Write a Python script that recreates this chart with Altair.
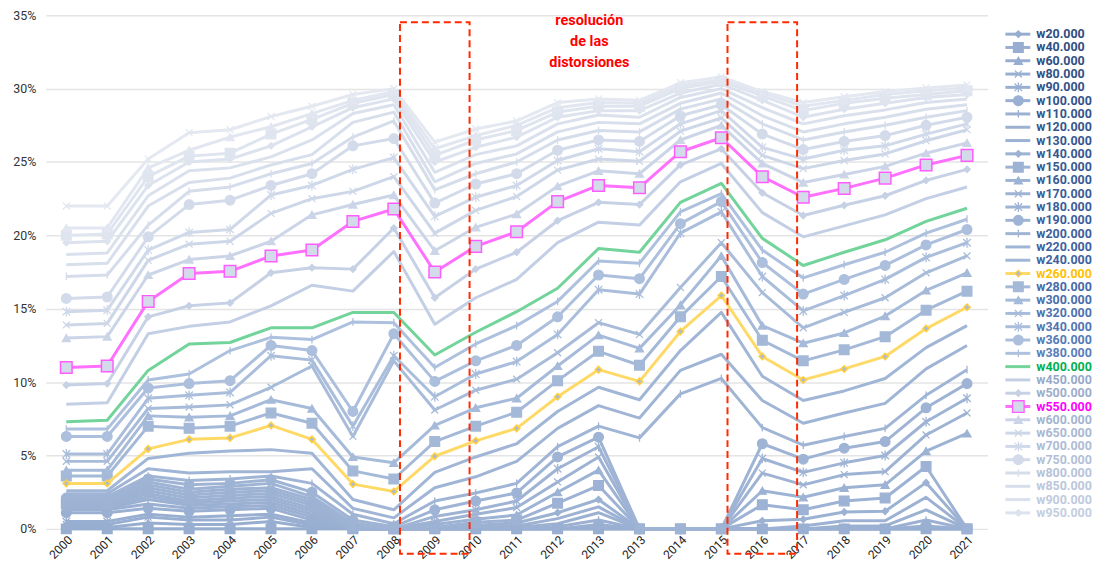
import json
import altair as alt
import pandas as pd

# ---------------- data ----------------
years = ["2000", "2001", "2002", "2003", "2004", "2005", "2006", "2007", "2008",
         "2009", "2010", "2011", "2012", "2013", "2013", "2014", "2015", "2016",
         "2017", "2018", "2019", "2020", "2021"]

series_names = ["w20.000", "w40.000", "w60.000", "w80.000", "w90.000", "w100.000",
                "w110.000", "w120.000", "w130.000", "w140.000", "w150.000", "w160.000",
                "w170.000", "w180.000", "w190.000", "w200.000", "w220.000", "w240.000",
                "w260.000", "w280.000", "w300.000", "w320.000", "w340.000", "w360.000",
                "w380.000", "w400.000", "w450.000", "w500.000", "w550.000", "w600.000",
                "w650.000", "w700.000", "w750.000", "w800.000", "w850.000", "w900.000",
                "w950.000", "w1.000.000", "w1.100.000", "w1.200.000"]
legend_count = 37  # the legend of the original is cut after w950.000

w20 = [0, 0, 0, 0, 0, 0, 0, 0, 0, 0, 0, 0, 0, 0, 0, 0, 0, 0, 0, 0, 0, 0, 0]
w40 = [0, 0, 0, 0, 0, 0, 0, 0, 0, 0, 0, 0, 0, 0, 0, 0, 0, 0, 0, 0, 0, 0, 0]
w60 = [0.1, 0.1, 0.4, 0.3, 0.3, 0.5, 0.1, 0, 0, 0, 0, 0, 0, 0, 0, 0, 0, 0, 0, 0, 0, 0, 0]
w80 = [0.3, 0.3, 0.8, 0.6, 0.6, 0.8, 0.25, 0, 0, 0, 0, 0, 0, 0, 0, 0, 0, 0, 0, 0, 0, 0, 0]
w90 = [0.5, 0.5, 1.0, 0.8, 0.9, 1.0, 0.4, 0, 0, 0, 0, 0, 0, 0.1, 0, 0, 0, 0, 0, 0, 0, 0, 0]
w100 = [1.1, 1.1, 1.4, 1.2, 1.3, 1.4, 0.6, 0, 0, 0, 0, 0, 0, 0.3, 0, 0, 0, 0, 0, 0, 0, 0.2, 0]
w110 = [1.3, 1.3, 1.7, 1.4, 1.5, 1.6, 0.8, 0, 0, 0, 0, 0, 0.15, 0.6, 0, 0, 0, 0, 0, 0, 0, 0.6, 0]
w120 = [1.4, 1.4, 2.0, 1.6, 1.7, 1.8, 1.0, 0, 0, 0, 0, 0.1, 0.35, 1.1, 0, 0, 0, 0, 0, 0.2, 0.2, 1.3, 0]
w130 = [1.5, 1.5, 2.2, 1.75, 1.9, 2.0, 1.2, 0, 0, 0, 0.15, 0.2, 0.7, 1.5, 0, 0, 0, 0, 0.2, 0.55, 0.55, 2.15, 0]
w140 = [1.6, 1.6, 2.4, 1.9, 2.1, 2.2, 1.4, 0, 0, 0, 0.25, 0.4, 1.1, 2.0, 0, 0, 0, 0.55, 0.65, 1.15, 1.2, 3.15, 0]
w150 = [1.7, 1.7, 2.6, 2.1, 2.3, 2.4, 1.6, 0.1, 0, 0.1, 0.45, 0.6, 1.75, 2.95, 0, 0, 0, 1.65, 1.3, 1.9, 2.1, 4.25, 0]
w160 = [1.8, 1.8, 2.8, 2.3, 2.5, 2.6, 1.8, 0.2, 0, 0.3, 0.65, 0.95, 2.5, 4.0, 0, 0, 0, 2.6, 2.15, 2.8, 3.0, 5.3, 6.5]
w170 = [1.9, 1.9, 3.0, 2.5, 2.7, 2.8, 2.0, 0.3, 0, 0.5, 1.0, 1.45, 3.2, 4.9, 0, 0, 0, 3.8, 3.0, 3.7, 3.9, 6.4, 7.9]
w180 = [2.0, 2.0, 3.2, 2.7, 2.9, 3.1, 2.2, 0.4, 0, 0.85, 1.3, 1.9, 4.1, 5.6, 0, 0, 0, 4.8, 3.85, 4.5, 5.0, 7.3, 8.9]
w190 = [2.1, 2.1, 3.4, 3.0, 3.1, 3.35, 2.5, 0.6, 0.15, 1.3, 1.9, 2.45, 4.9, 6.25, 0, 0, 0, 5.8, 4.75, 5.5, 5.95, 8.25, 9.9]
w200 = [2.2, 2.2, 3.6, 3.3, 3.4, 3.6, 3.1, 1.0, 0.35, 1.9, 2.45, 3.1, 5.6, 7.0, 6.2, 9.2, 10.25, 6.9, 5.7, 6.3, 6.85, 9.1, 10.85]
w220 = [2.4, 2.4, 4.1, 3.8, 3.9, 3.9, 4.1, 1.4, 0.75, 2.8, 3.55, 4.6, 6.85, 8.4, 7.55, 10.8, 11.9, 8.75, 7.2, 7.9, 8.55, 10.9, 12.5]
w240 = [2.6, 2.6, 4.8, 5.15, 5.3, 5.4, 5.15, 2.0, 1.3, 3.85, 4.9, 5.8, 8.0, 9.65, 8.8, 12.15, 14.75, 10.4, 8.75, 9.4, 10.25, 12.35, 13.85]
w260 = [3.1, 3.1, 5.45, 6.1, 6.2, 7.05, 6.1, 3.05, 2.55, 4.95, 6.0, 6.85, 9.0, 10.85, 10.05, 13.45, 15.9, 11.75, 10.15, 10.9, 11.75, 13.65, 15.1]
w280 = [3.6, 3.6, 7.0, 6.85, 7.0, 7.9, 7.2, 3.95, 3.4, 5.95, 7.0, 7.95, 10.1, 12.1, 11.15, 14.45, 17.2, 12.85, 11.45, 12.2, 13.1, 14.9, 16.2]
w300 = [4.0, 4.0, 7.7, 7.6, 7.7, 8.8, 8.2, 4.9, 4.5, 7.05, 8.25, 8.9, 11.1, 13.2, 12.3, 15.25, 18.6, 13.85, 12.65, 13.35, 14.5, 16.25, 17.45]
w320 = [4.6, 4.6, 8.2, 8.3, 8.45, 9.65, 11.1, 6.3, 11.45, 8.1, 9.45, 10.2, 12.0, 14.05, 13.25, 16.45, 19.5, 16.1, 13.7, 14.75, 15.75, 17.45, 18.6]
w340 = [5.1, 5.1, 8.9, 9.1, 9.3, 11.8, 11.5, 7.0, 11.8, 9.0, 10.55, 11.4, 13.25, 16.3, 16.0, 20.15, 21.6, 17.2, 14.85, 15.9, 17.0, 18.5, 19.5]
w360 = [6.3, 6.3, 9.6, 9.9, 10.1, 12.5, 12.15, 8.0, 13.3, 10.05, 11.45, 12.5, 14.45, 17.3, 17.05, 20.8, 22.3, 18.15, 16.0, 17.0, 17.95, 19.35, 20.4]
w380 = [6.8, 6.8, 10.15, 10.55, 12.15, 13.05, 12.9, 14.1, 14.05, 11.0, 12.6, 13.85, 15.5, 18.25, 18.1, 21.6, 22.85, 19.0, 17.1, 18.0, 18.85, 20.15, 21.1]
w400 = [7.3, 7.4, 10.8, 12.6, 12.7, 13.7, 13.7, 14.75, 14.75, 11.85, 13.4, 14.8, 16.4, 19.1, 18.85, 22.25, 23.55, 19.8, 17.95, 18.85, 19.7, 20.95, 21.85]
w450 = [8.5, 8.6, 13.3, 13.8, 14.1, 15.2, 16.6, 16.2, 18.9, 13.95, 15.75, 17.0, 19.5, 20.9, 20.7, 23.65, 24.9, 21.55, 19.9, 20.65, 21.4, 22.5, 23.3]
w500 = [9.8, 9.9, 14.45, 15.2, 15.4, 17.45, 17.8, 17.7, 20.5, 15.75, 17.7, 18.85, 21.0, 22.25, 22.1, 24.8, 25.9, 22.9, 21.35, 22.05, 22.7, 23.75, 24.5]
w550 = [11.0, 11.1, 15.5, 17.4, 17.55, 18.6, 19.0, 20.95, 21.8, 17.5, 19.25, 20.25, 22.3, 23.4, 23.25, 25.7, 26.65, 24.0, 22.6, 23.2, 23.9, 24.8, 25.45]
w600 = [13.0, 13.1, 17.3, 18.35, 18.6, 19.6, 21.4, 22.1, 22.75, 18.95, 20.55, 21.45, 23.35, 24.4, 24.2, 26.5, 27.5, 24.9, 23.6, 24.15, 24.7, 25.6, 26.3]
w650 = [13.9, 14.0, 18.3, 19.4, 19.6, 21.5, 22.5, 23.0, 24.0, 20.15, 21.7, 22.65, 24.45, 25.2, 25.05, 27.1, 28.0, 25.45, 24.55, 25.1, 25.55, 26.45, 27.2]
w700 = [14.8, 14.9, 19.0, 20.2, 20.4, 22.75, 23.4, 24.5, 25.3, 21.3, 22.6, 23.4, 25.1, 25.9, 25.7, 27.6, 28.5, 26.0, 25.2, 25.8, 26.1, 26.9, 27.6]
w750 = [15.7, 15.8, 19.9, 22.1, 22.4, 23.4, 24.2, 26.1, 26.6, 22.2, 23.5, 24.2, 25.8, 26.5, 26.4, 28.15, 28.9, 26.9, 25.85, 26.4, 26.8, 27.5, 28.05]
w800 = [17.2, 17.3, 20.7, 23.0, 23.3, 24.2, 24.9, 26.7, 27.8, 23.1, 24.2, 25.0, 26.5, 27.15, 27.05, 28.6, 29.3, 27.6, 26.5, 27.05, 27.5, 28.05, 28.5]
w850 = [18.0, 18.1, 22.0, 23.6, 23.9, 24.8, 25.5, 27.7, 28.4, 23.65, 24.9, 25.55, 27.05, 27.7, 27.6, 29.0, 29.7, 28.15, 27.05, 27.6, 28.05, 28.6, 28.9]
w900 = [18.7, 18.8, 22.7, 24.4, 24.6, 25.35, 26.5, 28.3, 28.9, 24.3, 25.5, 26.1, 27.6, 28.2, 28.05, 29.4, 30.0, 28.7, 27.6, 28.15, 28.55, 29.05, 29.3]
w950 = [19.5, 19.6, 23.4, 25.0, 25.2, 26.1, 27.4, 28.7, 29.3, 25.0, 26.0, 26.7, 28.05, 28.5, 28.5, 29.7, 30.3, 29.2, 28.05, 28.6, 29.0, 29.4, 29.6]
w1000 = [20.0, 20.1, 24.0, 25.4, 25.6, 26.9, 27.9, 29.0, 29.6, 25.45, 26.5, 27.15, 28.4, 28.8, 28.8, 30.0, 30.5, 29.5, 28.5, 29.0, 29.35, 29.6, 29.85]
w1100 = [20.5, 20.5, 24.6, 25.8, 26.7, 27.4, 28.3, 29.2, 29.8, 25.9, 26.8, 27.5, 28.7, 29.05, 29.0, 30.2, 30.6, 29.7, 28.8, 29.2, 29.6, 29.85, 30.05]
w1200 = [22.0, 22.0, 25.2, 27.0, 27.2, 28.1, 28.8, 29.6, 30.0, 26.35, 27.25, 27.8, 29.05, 29.3, 29.2, 30.4, 30.8, 29.8, 29.05, 29.45, 29.8, 30.05, 30.25]

all_values = [w20, w40, w60, w80, w90, w100, w110, w120, w130, w140, w150, w160,
              w170, w180, w190, w200, w220, w240, w260, w280, w300, w320, w340,
              w360, w380, w400, w450, w500, w550, w600, w650, w700, w750, w800,
              w850, w900, w950, w1000, w1100, w1200]

highlight_idx = [9, 17]  # 2009 and 2016
note_lines = ["resolución", "de las", "distorsiones"]

# ---------------- styles ----------------
X_PATH = "M-1,-1L1,1M-1,1L1,-1"
AST_PATH = "M-1,-1L1,1M-1,1L1,-1M0,-1.3L0,1.3"
TICK_PATH = "M0,-1L0,1"
shape_cycle = ["diamond", "square", "triangle-up", X_PATH, AST_PATH, "circle", TICK_PATH, "none", "none"]
size_cycle = [42, 95, 65, 48, 58, 95, 60, 0, 0]

PLOT_W, PLOT_H = 946, 516


def hex2rgb(h):
    h = h.lstrip("#")
    return [int(h[i:i + 2], 16) for i in (0, 2, 4)]


def ramp(anchors, i):
    for (a, ca), (b, cb) in zip(anchors, anchors[1:]):
        if a <= i <= b:
            t = 0 if b == a else (i - a) / (b - a)
            c1, c2 = hex2rgb(ca), hex2rgb(cb)
            return "#" + "".join(f"{round(x + (y - x) * t):02x}" for x, y in zip(c1, c2))
    return anchors[-1][1]


line_anchors = [(0, "#97add0"), (17, "#a1b6d6"), (25, "#afc2df"), (26, "#c3cfe4"),
                (36, "#dde3ee"), (39, "#e4e8f1")]
label_anchors = [(0, "#2f4d7f"), (17, "#3d62a0"), (25, "#5c82be"), (26, "#97a9c9"),
                 (36, "#c4cee0")]

special = {
    "w260.000": dict(line="#ffd966", fill="#a9bbd6", stroke="#ffcf40", label="#ffc000"),
    "w400.000": dict(line="#72d49a", fill="#72d49a", stroke="#72d49a", label="#00b04f"),
    "w550.000": dict(line="#ff70ff", fill="#d3dbea", stroke="#ff5cff", label="#ff00ff"),
}

rows = []
meta = []
for i, (name, vals) in enumerate(zip(series_names, all_values)):
    lc = ramp(line_anchors, i)
    tc = ramp(label_anchors, min(i, 36))
    fill, stroke = lc, lc
    sp = name in special
    if sp:
        lc = special[name]["line"]
        fill = special[name]["fill"]
        stroke = special[name]["stroke"]
        tc = special[name]["label"]
    shp = shape_cycle[i % 9]
    sz = size_cycle[i % 9]
    if name == "w550.000":
        sz = 135
    m = dict(series=name, row=i, lcolor=lc, tcolor=tc, mfill=fill, mstroke=stroke,
             shape=shp, msize=sz, special=sp)
    meta.append(m)
    for j, v in enumerate(vals):
        r = dict(m)
        r["idx"] = j
        r["value"] = v
        rows.append(r)

df = pd.DataFrame(rows)
df_reg = df[~df["special"]]
df_sp = df[df["special"]]
leg_df = pd.DataFrame(meta[:legend_count])

FONT = "Roboto"
label_expr = json.dumps(years).replace('"', "'") + "[datum.value]"

x_enc = alt.X("idx:Q",
              scale=alt.Scale(domain=[-0.5, 22.5], nice=False, zero=False),
              axis=alt.Axis(values=list(range(len(years))), labelExpr=label_expr,
                            labelAngle=-45, labelFontSize=12, labelColor="#222",
                            labelFont=FONT, ticks=False, domain=False, grid=False,
                            labelPadding=5, title=None))
y_enc = alt.Y("value:Q",
              scale=alt.Scale(domain=[0, 35], nice=False, zero=True),
              axis=alt.Axis(values=[0, 5, 10, 15, 20, 25, 30, 35],
                            labelExpr="datum.value + '%'", labelFontSize=12.5,
                            labelColor="#333", labelFont=FONT, ticks=False,
                            domain=False, grid=True, gridColor="#e4e4e4",
                            gridWidth=1.5, labelPadding=10, title=None))

base_reg = alt.Chart(df_reg).encode(x=x_enc, y=y_enc, detail="series:N")
lines_reg = base_reg.mark_line(strokeWidth=3, strokeJoin="round").encode(
    color=alt.Color("lcolor:N", scale=None))
pts_reg = base_reg.transform_filter("datum.shape != 'none'").mark_point(
    filled=True, strokeWidth=1.3, opacity=1).encode(
    shape=alt.Shape("shape:N", scale=None),
    fill=alt.Fill("mfill:N", scale=None),
    stroke=alt.Stroke("mstroke:N", scale=None),
    size=alt.Size("msize:Q", scale=None))

base_sp = alt.Chart(df_sp).encode(x=x_enc, y=y_enc, detail="series:N")
lines_sp = base_sp.mark_line(strokeWidth=3, strokeJoin="round").encode(
    color=alt.Color("lcolor:N", scale=None))
pts_sp = base_sp.transform_filter("datum.shape != 'none'").mark_point(
    filled=True, strokeWidth=1.5, opacity=1).encode(
    shape=alt.Shape("shape:N", scale=None),
    fill=alt.Fill("mfill:N", scale=None),
    stroke=alt.Stroke("mstroke:N", scale=None),
    size=alt.Size("msize:Q", scale=None))

boxes = alt.Chart(pd.DataFrame({"h": highlight_idx})).transform_calculate(
    x0="datum.h - 0.85", x1="datum.h + 0.85").mark_rect(
    fill="transparent", stroke="#ff2a00", strokeDash=[7, 4], strokeWidth=2).encode(
    x="x0:Q", x2="x1:Q", y=alt.value(7), y2=alt.value(PLOT_H + 25))

note = alt.Chart(pd.DataFrame({"t": ["\n".join(note_lines)]})).mark_text(
    lineBreak="\n", align="center", baseline="top", fontSize=14.5, fontWeight="bold",
    font=FONT, color="#ff0000", lineHeight=21).encode(
    text="t:N", x=alt.value(546), y=alt.value(-1))

plot = alt.layer(lines_reg, pts_reg, lines_sp, pts_sp, boxes, note).properties(
    width=PLOT_W, height=PLOT_H)

# ------------- custom legend -------------
row_px = 13.36
d0 = -19 / row_px
d1 = d0 + PLOT_H / row_px
leg_y = alt.Y("row:Q", scale=alt.Scale(domain=[d0, d1], reverse=True, nice=False,
                                       zero=False), axis=None)
leg_base = alt.Chart(leg_df).encode(y=leg_y)
leg_rule = leg_base.mark_rule(strokeWidth=3).encode(
    x=alt.value(0), x2=alt.value(25), color=alt.Color("lcolor:N", scale=None))
leg_pts = leg_base.transform_filter("datum.shape != 'none'").mark_point(
    filled=True, strokeWidth=1.3, opacity=1).encode(
    x=alt.value(13),
    shape=alt.Shape("shape:N", scale=None),
    fill=alt.Fill("mfill:N", scale=None),
    stroke=alt.Stroke("mstroke:N", scale=None),
    size=alt.Size("msize:Q", scale=None))
leg_txt = leg_base.mark_text(align="left", baseline="middle", fontSize=12.5,
                             fontWeight="bold", font=FONT).encode(
    x=alt.value(31), text="series:N", color=alt.Color("tcolor:N", scale=None))
legend = alt.layer(leg_rule, leg_pts, leg_txt).properties(width=84, height=PLOT_H)

chart = alt.hconcat(plot, legend, spacing=18, bounds="flush").properties(
    padding={"left": 4, "top": 0, "right": 0, "bottom": 0}
).configure(font=FONT).configure_view(stroke="transparent", strokeWidth=0)

chart.save("out.html", embed_options={"renderer": "svg", "actions": False})
